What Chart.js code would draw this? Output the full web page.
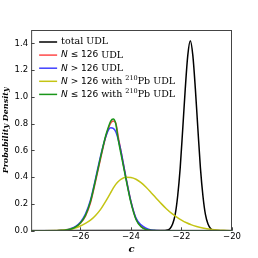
<!DOCTYPE html>
<html>
<head>
<meta charset="utf-8">
<script src="https://cdn.jsdelivr.net/npm/chart.js@4.4.1/dist/chart.umd.min.js"></script>
<style>
  body { margin: 0; background: #fff; }
</style>
</head>
<body>
<canvas id="udlChart" width="258" height="258"></canvas>
<script>
// data

const xTicks = [-26, -24, -22, -20];
const yTicks = [0, 0.2, 0.4, 0.6, 0.8, 1.0, 1.2, 1.4];

// total UDL (black, narrow peak)
const totalX = [-28, -22.65, -22.55, -22.45, -22.35, -22.25, -22.15, -22.05, -21.95, -21.85, -21.75,
  -21.65, -21.55, -21.45, -21.35, -21.25, -21.15, -21.05, -20.95, -20.85, -20.75, -20.65, -20];
const totalY = [0, 0.002, 0.006, 0.018, 0.05, 0.12, 0.26, 0.47, 0.76, 1.06, 1.31,
  1.42, 1.31, 1.06, 0.76, 0.47, 0.26, 0.12, 0.05, 0.018, 0.006, 0.002, 0];

// shared x grid for the other four curves
const gridX = [-28, -27.4, -27, -26.8, -26.6, -26.4, -26.2, -26.0, -25.8, -25.6, -25.4, -25.2, -25.0,
  -24.9, -24.8, -24.7, -24.6, -24.5, -24.4, -24.2, -24.0, -23.8, -23.6, -23.4, -23.2, -23.0,
  -22.8, -22.6, -22.4, -22.2, -22.0, -21.8, -21.6, -21.4, -21.2, -21.0, -20.8, -20.6, -20.4, -20.2, -20];

const lowN = [0, 0, 0.001, 0.002, 0.005, 0.012, 0.027, 0.056, 0.11, 0.21, 0.37, 0.54, 0.70,
  0.76, 0.805, 0.82, 0.805, 0.70, 0.60, 0.40, 0.22, 0.09, 0.033, 0.011, 0.003, 0.001,
  0, 0, 0, 0, 0, 0, 0, 0, 0, 0, 0, 0, 0, 0, 0];

const highN = [0, 0, 0.001, 0.003, 0.006, 0.015, 0.032, 0.065, 0.125, 0.23, 0.39, 0.56, 0.70,
  0.75, 0.77, 0.765, 0.74, 0.68, 0.60, 0.40, 0.22, 0.095, 0.045, 0.02, 0.007, 0.002,
  0.0005, 0, 0, 0, 0, 0, 0, 0, 0, 0, 0, 0, 0, 0, 0];

const highPb = [0, 0.0005, 0.002, 0.004, 0.007, 0.012, 0.021, 0.036, 0.055, 0.08, 0.115, 0.16, 0.22,
  0.252, 0.285, 0.318, 0.347, 0.368, 0.384, 0.40, 0.398, 0.385, 0.36, 0.325, 0.285, 0.244,
  0.203, 0.165, 0.132, 0.104, 0.08, 0.06, 0.044, 0.032, 0.022, 0.015, 0.01, 0.006, 0.004, 0.002, 0.001];

const lowPb = [0, 0, 0.001, 0.002, 0.005, 0.012, 0.028, 0.058, 0.115, 0.22, 0.38, 0.55, 0.71,
  0.77, 0.82, 0.835, 0.80, 0.68, 0.58, 0.39, 0.21, 0.085, 0.03, 0.01, 0.003, 0.001,
  0, 0, 0, 0, 0, 0, 0, 0, 0, 0, 0, 0, 0, 0, 0];

const colors = ['#000000', 'rgba(255,40,40,0.85)', 'rgba(30,30,255,0.85)', '#c4c414', '#1a961a'];

function pts(xs, ys) {
  return xs.map((x, i) => ({ x: x, y: ys[i] }));
}

const SERIF = 'DejaVu Serif';
const SANS = 'DejaVu Sans';

// legend rows: pieces of mixed text (serif words, sans math, superscripts)
const legendRows = [
  [['t', 'total UDL']],
  [['i', 'N'], ['m', ' \u2264 126 '], ['t', 'UDL']],
  [['i', 'N'], ['m', ' > 126 '], ['t', 'UDL']],
  [['i', 'N'], ['m', ' > 126 '], ['t', 'with '], ['s', '210'], ['t', 'Pb UDL']],
  [['i', 'N'], ['m', ' \u2264 126 '], ['t', 'with '], ['s', '210'], ['t', 'Pb UDL']]
];

const pieceFont = {
  t: '9.5px ' + SERIF,
  i: 'italic 9px ' + SANS,
  m: '9px ' + SANS,
  s: '6.5px ' + SERIF
};

const framePlugin = {
  id: 'frame',
  afterDatasetsDraw(chart) {
    const ctx = chart.ctx;
    const a = chart.chartArea;
    const xs = chart.scales.x;
    const ys = chart.scales.y;
    ctx.save();
    ctx.strokeStyle = '#444';
    ctx.lineWidth = 1;
    ctx.strokeRect(a.left + 0.5, a.top + 0.5, a.right - a.left - 1, a.bottom - a.top - 1);
    // inward ticks
    ctx.beginPath();
    xTicks.forEach(v => {
      const px = Math.round(xs.getPixelForValue(v)) + 0.5;
      ctx.moveTo(px, a.bottom);
      ctx.lineTo(px, a.bottom - 3.5);
    });
    yTicks.forEach(v => {
      const py = Math.round(ys.getPixelForValue(v)) + 0.5;
      ctx.moveTo(a.left, py);
      ctx.lineTo(a.left + 3.5, py);
    });
    ctx.stroke();

    // legend
    let y = a.top + 12;
    legendRows.forEach((row, i) => {
      ctx.strokeStyle = colors[i];
      ctx.lineWidth = 1.5;
      ctx.beginPath();
      ctx.moveTo(a.left + 8, y);
      ctx.lineTo(a.left + 26, y);
      ctx.stroke();
      let x = a.left + 30;
      ctx.fillStyle = '#000';
      ctx.textBaseline = 'middle';
      row.forEach(p => {
        ctx.font = pieceFont[p[0]];
        ctx.fillText(p[1], x, p[0] === 's' ? y - 3 : y);
        x += ctx.measureText(p[1]).width;
      });
      y += 13.1;
    });
    ctx.restore();
  }
};

const tickFont = { family: SANS, size: 8.5 };

new Chart(document.getElementById('udlChart').getContext('2d'), {
  type: 'line',
  data: {
    datasets: [
      { label: 'total UDL', data: pts(totalX, totalY), borderColor: colors[0], order: 5 },
      { label: 'N <= 126 UDL', data: pts(gridX, lowN), borderColor: colors[1], order: 4 },
      { label: 'N > 126 UDL', data: pts(gridX, highN), borderColor: colors[2], order: 3 },
      { label: 'N > 126 with 210Pb UDL', data: pts(gridX, highPb), borderColor: colors[3], order: 2 },
      { label: 'N <= 126 with 210Pb UDL', data: pts(gridX, lowPb), borderColor: colors[4], order: 1 }
    ]
  },
  options: {
    responsive: false,
    animation: false,
    devicePixelRatio: 1,
    datasets: {
      line: {
        borderWidth: 1.5,
        pointRadius: 0,
        fill: false,
        cubicInterpolationMode: 'monotone'
      }
    },
    layout: {
      padding: { left: 1, right: 26, top: 30, bottom: 3 }
    },
    plugins: {
      legend: { display: false },
      tooltip: { enabled: false }
    },
    scales: {
      x: {
        type: 'linear',
        min: -27.95,
        max: -20,
        afterBuildTicks: s => { s.ticks = xTicks.map(v => ({ value: v })); },
        ticks: {
          font: tickFont,
          color: '#000',
          padding: 1,
          maxRotation: 0,
          autoSkip: false,
          callback: v => String(v).replace('-', '\u2212')
        },
        grid: { display: false, drawTicks: false },
        border: { display: false },
        title: {
          display: true,
          text: 'c',
          color: '#000',
          font: { family: SERIF, style: 'italic', weight: 'bold', size: 10 },
          padding: { top: 0, bottom: 0 }
        }
      },
      y: {
        min: 0,
        max: 1.5,
        afterBuildTicks: s => { s.ticks = yTicks.map(v => ({ value: v })); },
        ticks: {
          font: tickFont,
          color: '#000',
          padding: 3,
          autoSkip: false,
          callback: v => v.toFixed(1)
        },
        grid: { display: false, drawTicks: false },
        border: { display: false },
        title: {
          display: true,
          text: 'Probability Density',
          color: '#000',
          font: { family: SERIF, style: 'italic', weight: 'bold', size: 8 },
          padding: { top: 0, bottom: 1 }
        }
      }
    }
  },
  plugins: [framePlugin]
});
</script>
</body>
</html>
